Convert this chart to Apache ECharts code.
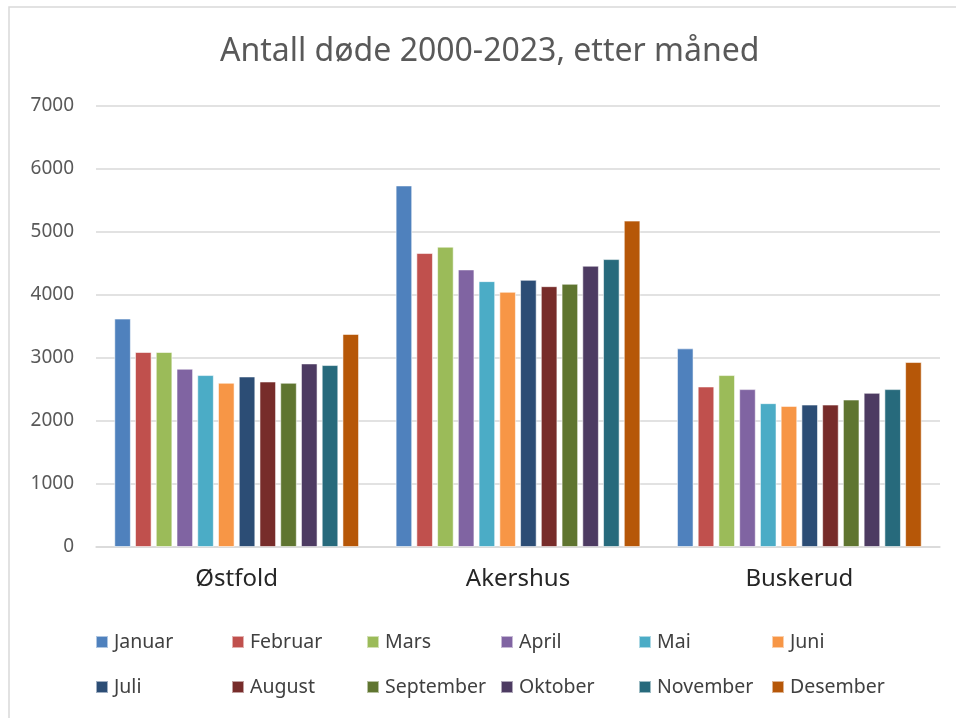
<!DOCTYPE html>
<html><head><meta charset="utf-8">
<script src="https://cdn.jsdelivr.net/npm/echarts@6/dist/echarts.min.js"></script>
<style>html,body{margin:0;padding:0;background:#fff}#c{width:956px;height:718px}</style>
</head><body><div id="c"></div>
<script>
const categories = ['Østfold', 'Akershus', 'Buskerud'];
const months = ['Januar','Februar','Mars','April','Mai','Juni','Juli','August','September','Oktober','November','Desember'];
const januar = [3626, 5739, 3153];
const februar = [3095, 4666, 2548];
const mars = [3095, 4767, 2729];
const april = [2830, 4406, 2506];
const mai = [2729, 4220, 2283];
const juni = [2607, 4051, 2240];
const juli = [2707, 4241, 2261];
const august = [2627, 4140, 2261];
const september = [2607, 4178, 2341];
const oktober = [2914, 4465, 2447];
const november = [2888, 4570, 2506];
const desember = [3382, 5181, 2936];
const yTicks = [0, 1000, 2000, 3000, 4000, 5000, 6000, 7000];

const seriesValues = [januar, februar, mars, april, mai, juni, juli, august, september, oktober, november, desember];
const colors = ['#4F81BD','#C0504D','#9BBB59','#8064A2','#4BACC6','#F79646','#2C4D75','#772C2A','#5F7530','#4D3B62','#276A7C','#B65708'];
const font = "'Noto Sans', sans-serif";

const legendX = [95, 231, 366, 500, 638, 771];
const legendY = [632, 677];
const legends = months.map((m, i) => ({
  data: [m],
  left: legendX[i % 6],
  top: legendY[Math.floor(i / 6)],
  itemWidth: 12, itemHeight: 12, itemGap: 5,
  icon: 'rect',
  textStyle: { fontFamily: font, fontSize: 19.5, color: '#404040', padding: [0,0,0,1] },
  padding: 0
}));

const chart = echarts.init(document.getElementById('c'), null, { renderer: 'canvas' });
chart.setOption({
  animation: false,
  color: colors,
  title: {
    text: 'Antall døde 2000-2023, etter måned',
    left: 215, top: 31,
    textStyle: { fontFamily: font, fontSize: 32, fontWeight: 'normal', color: '#595959' }
  },
  graphic: [{
    type: 'rect', shape: { x: 9, y: 7, width: 960, height: 720 },
    style: { fill: 'none', stroke: '#d9d9d9', lineWidth: 1.5 }, silent: true, z: -1
  }],
  legend: legends,
  grid: { left: 96, right: 16, top: 106, bottom: 171, containLabel: false },
  xAxis: {
    type: 'category', data: categories,
    axisLine: { show: true, lineStyle: { color: '#d9d9d9', width: 1.5 } },
    axisTick: { show: false },
    axisLabel: { fontFamily: font, fontSize: 24, color: '#262626', margin: 20 }
  },
  yAxis: {
    type: 'value', min: yTicks[0], max: yTicks[yTicks.length - 1], interval: 1000,
    axisLine: { show: false }, axisTick: { show: false },
    splitLine: { lineStyle: { color: '#d9d9d9', width: 1.5 } },
    axisLabel: { fontFamily: font, fontSize: 19, color: '#595959', margin: 22, formatter: v => String(v) }
  },
  series: months.map((m, i) => ({
    name: m, type: 'bar', data: seriesValues[i],
    barGap: '25%', barCategoryGap: '13%',
    itemStyle: { color: colors[i], borderColor: 'rgba(255,255,255,0.55)', borderWidth: 1 }
  }))
});
</script></body></html>
